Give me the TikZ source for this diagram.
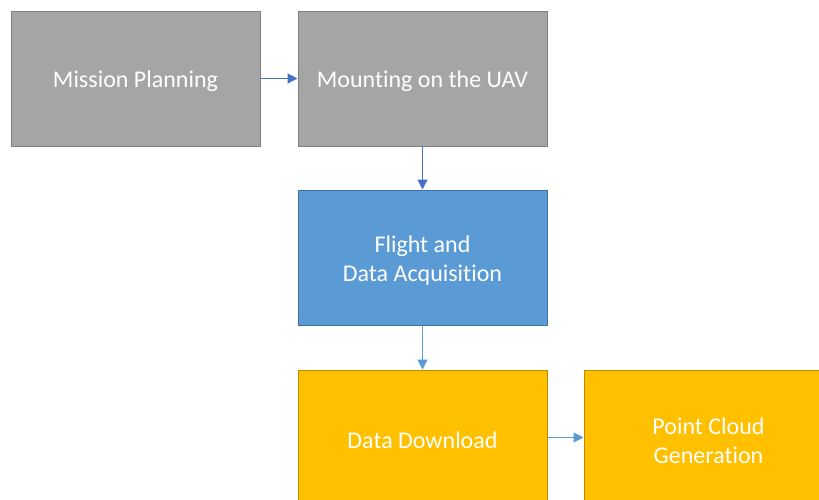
\documentclass[tikz,border=0pt]{standalone}
\usepackage{fontspec}
\setmainfont[Ligatures=NoCommon]{Carlito}
\usetikzlibrary{arrows.meta}
\definecolor{grayfill}{HTML}{A5A5A5}
\definecolor{grayline}{HTML}{7F7F7F}
\definecolor{bluefill}{HTML}{5B9BD5}
\definecolor{blueline}{HTML}{41719C}
\definecolor{yellowfill}{HTML}{FFC000}
\definecolor{yellowline}{HTML}{BC8C00}
\definecolor{darkarrow}{HTML}{4472C4}
\definecolor{lightarrow}{HTML}{5B9BD5}
\begin{document}
\begin{tikzpicture}[x=1pt,y=-1pt,
  box/.style={rectangle, minimum width=249pt, minimum height=135pt, line width=1pt, inner sep=0pt},
  boxtext/.style={text=white, font=\fontsize{24}{29}\selectfont, align=center, inner sep=0pt},
  graybox/.style={box, fill=grayfill, draw=grayline},
  bluebox/.style={box, fill=bluefill, draw=blueline},
  yellowbox/.style={box, fill=yellowfill, draw=yellowline},
  link/.style={line width=1.2pt, -{Triangle[length=10pt,width=10pt]}}]
\useasboundingbox (0,0) rectangle (819,499);
\clip (0,0) rectangle (819,499);
\node[graybox] (mp) at (135.5,78.5) {};
\node[graybox] (mu) at (422.5,78.5) {};
\node[bluebox] (fd) at (422.5,257.5) {};
\node[yellowbox] (dd) at (422.5,437.5) {};
\node[yellowbox] (pc) at (708.5,437.5) {};
\node[boxtext] (mpt) at ([yshift=-3pt]mp.center) {Mission Planning};
\node[boxtext] (mut) at ([yshift=-3pt]mu.center) {Mounting on the UAV};
\node[boxtext] (fdt) at ([yshift=-3pt]fd.center) {Flight and\\Data Acquisition};
\node[boxtext] (ddt) at ([yshift=-3pt]dd.center) {Data Download};
\node[boxtext] (pct) at ([yshift=-3pt]pc.center) {Point Cloud\\Generation};
\draw[link, draw=darkarrow, fill=darkarrow] (mp) -- (mu);
\draw[link, draw=darkarrow, fill=darkarrow] (mu) -- (fd);
\draw[link, draw=lightarrow, fill=lightarrow] (fd) -- (dd);
\draw[link, draw=lightarrow, fill=lightarrow] (dd) -- (pc);
\end{tikzpicture}
\end{document}
